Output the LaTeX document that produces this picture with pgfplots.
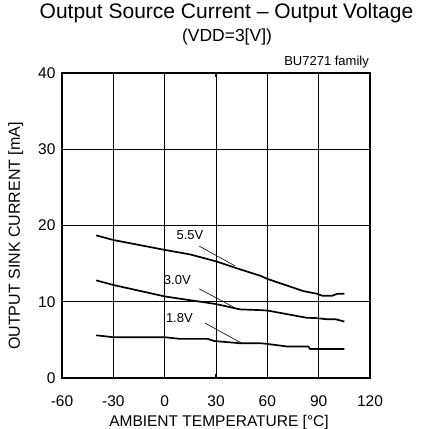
\documentclass[border=0pt]{standalone}
\usepackage{fontspec}
\setmainfont{Liberation Sans}
\usepackage{pgfplots}
\pgfplotsset{compat=1.18}
\begin{document}
\begin{tikzpicture}
\useasboundingbox (-62pt,-50pt) rectangle (368pt,378pt);
\begin{axis}[
  at={(0,0)}, anchor=south west,
  scale only axis, width=308pt, height=305pt,
  xmin=-60, xmax=120, ymin=0, ymax=40,
  xtick={-60,-30,...,120}, ytick={0,10,...,40},
  grid=major, major grid style={black, line width=0.6pt},
  axis line style={line width=1.6pt},
  tick align=inside, major tick length=4pt,
  tick style={black, line width=1.2pt},
  /pgf/number format/assume math mode=true,
  tick label style={font=\fontsize{15.5}{18}\selectfont},
  xticklabel style={anchor=base, yshift=-28pt},
  yticklabel style={xshift=-3pt},
  clip=false,
]
\addplot[black, line width=1.7pt] coordinates {(-40,18.7) (-30,18.1) (0,16.8) (15,16.2) (30,15.3) (42,14.4) (56,13.4) (60,13.0) (81,11.4) (89,11.05) (92,10.8) (98,10.8) (101,11.05) (105,11.05)};
\addplot[black, line width=1.7pt] coordinates {(-40,12.8) (-30,12.2) (0,10.7) (30,9.7) (44,9.0) (56,8.9) (60,8.85) (83,7.9) (89,7.85) (95,7.7) (100,7.7) (105,7.4)};
\addplot[black, line width=1.7pt] coordinates {(-40,5.6) (-30,5.35) (0,5.35) (9,5.13) (25,5.13) (29,4.85) (44,4.56) (56,4.56) (60,4.47) (72,4.12) (84,4.12) (85,3.8) (105,3.8)};
\node[font=\fontsize{13}{15}\selectfont] at (axis cs:14.8,18.8) {5.5V};
\node[font=\fontsize{13}{15}\selectfont] at (axis cs:7.4,12.9) {3.0V};
\node[font=\fontsize{13}{15}\selectfont] at (axis cs:8.6,7.85) {1.8V};
\draw[black, line width=0.6pt] (axis cs:20.2,17.3) -- (axis cs:41.1,14.7);
\draw[black, line width=0.6pt] (axis cs:20.2,11.7) -- (axis cs:41.1,9.2);
\draw[black, line width=0.6pt] (axis cs:23.6,7.2) -- (axis cs:45,4.56);
\end{axis}
\node[anchor=base, font=\fontsize{21}{24}\selectfont, inner sep=0pt] at (164.5pt,359pt) {Output Source Current – Output Voltage};
\node[anchor=base, font=\fontsize{17.5}{20}\selectfont, inner sep=0pt] at (165pt,336.5pt) {(VDD=3[V])};
\node[anchor=base east, font=\fontsize{13}{15}\selectfont, inner sep=0pt] at (307pt,312pt) {BU7271 family};
\node[anchor=base, font=\fontsize{15.5}{18}\selectfont, inner sep=0pt] at (157pt,-48pt) {AMBIENT TEMPERATURE [°C]};
\node[anchor=base, rotate=90, font=\fontsize{16}{18}\selectfont, inner sep=0pt] at (-42pt,142pt) {OUTPUT SINK CURRENT [mA]};
\end{tikzpicture}
\end{document}
